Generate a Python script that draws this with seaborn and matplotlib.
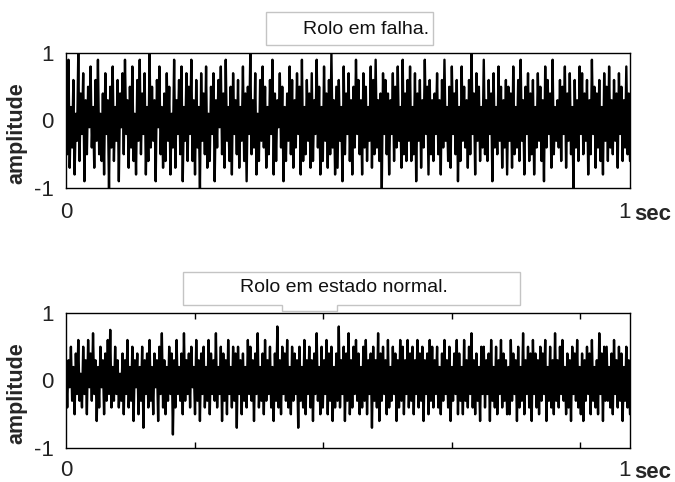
import numpy as np
import pandas as pd
import seaborn as sns
import matplotlib
matplotlib.use("Agg")
import matplotlib.pyplot as plt
from matplotlib.patches import Polygon

# ---- data (hand-estimated from the reference picture) ----
titles = ["Rolo em falha.", "Rolo em estado normal."]
y_label = "amplitude"
y_ticks = [-1, 0, 1]
y_tick_labels = ["-1", "0", "1"]
x_tick_start = "0"
x_tick_end = "1"
x_unit = "sec"

falha = [
    0.3,-0.5,0.9,-0.7,0.2,-0.4,0.6,-0.8,0.1,-0.3,1.0,-0.6,0.4,-0.2,0.7,-0.9,0.3,-0.5,0.5,-0.1,
    0.8,-0.4,0.2,-0.7,0.6,-0.3,0.9,-0.5,0.1,-0.6,0.4,-0.8,0.7,-0.2,0.3,-1.0,0.5,-0.4,0.8,-0.6,
    0.2,-0.3,0.6,-0.9,0.4,-0.1,0.7,-0.5,0.9,-0.2,0.3,-0.7,0.5,-0.4,0.8,-0.6,0.1,-0.8,0.6,-0.3,
    0.9,-0.5,0.4,-0.2,0.7,-0.8,0.2,-0.6,1.0,-0.4,0.5,-0.3,0.3,-0.9,0.6,-0.1,0.8,-0.5,0.2,-0.7,
    0.4,-0.6,0.7,-0.3,0.5,-0.8,0.1,-0.4,0.9,-0.7,0.3,-0.2,0.6,-0.5,0.8,-0.9,0.2,-0.3,0.7,-0.6,
    0.5,-0.2,0.9,-0.6,0.3,-0.8,0.6,-0.4,0.2,-1.0,0.7,-0.3,0.4,-0.5,0.8,-0.7,0.1,-0.6,0.5,-0.2,
    0.7,-0.9,0.3,-0.4,0.6,-0.1,0.8,-0.5,0.4,-0.7,0.9,-0.3,0.2,-0.6,0.5,-0.8,0.7,-0.2,0.3,-0.5,
    0.6,-0.7,0.2,-0.3,0.8,-0.6,0.4,-0.9,0.5,-0.2,1.0,-0.5,0.3,-0.4,0.7,-0.8,0.1,-0.6,0.6,-0.3,
    0.8,-0.4,0.5,-0.7,0.2,-0.5,0.6,-0.2,0.9,-0.8,0.4,-0.6,0.3,-0.1,0.7,-0.4,0.5,-0.9,0.2,-0.6,
    0.4,-0.3,0.8,-0.5,0.6,-0.7,0.3,-0.4,0.7,-0.2,0.5,-0.8,0.9,-0.6,0.2,-0.5,0.6,-0.3,0.4,-0.7,
    0.7,-0.6,0.3,-0.2,0.9,-0.4,0.5,-0.8,0.2,-0.6,0.8,-0.3,0.4,-0.7,0.6,-0.5,1.0,-0.4,0.3,-0.8,
    0.5,-0.7,0.6,-0.3,0.2,-0.9,0.8,-0.5,0.4,-0.2,0.7,-0.6,0.3,-0.8,0.5,-0.4,0.9,-0.2,0.6,-0.5,
    0.3,-0.8,0.7,-0.4,0.5,-0.6,0.2,-0.3,0.8,-0.7,0.6,-0.5,0.9,-0.4,0.3,-0.6,0.4,-1.0,0.7,-0.2,
    0.6,-0.5,0.4,-0.8,0.3,-0.2,0.7,-0.6,0.5,-0.4,0.8,-0.3,0.2,-0.7,0.9,-0.5,0.4,-0.6,0.6,-0.3,
    0.8,-0.6,0.2,-0.5,0.7,-0.9,0.4,-0.3,0.6,-0.7,0.3,-0.4,0.9,-0.2,0.5,-0.8,0.6,-0.5,0.3,-0.6,
    0.4,-0.2,0.7,-0.5,0.3,-0.8,0.6,-0.4,0.9,-0.3,0.2,-0.6,0.5,-0.7,0.8,-0.2,0.4,-0.5,0.6,-0.9,
    0.2,-0.6,0.8,-0.3,0.5,-0.4,0.3,-0.7,0.6,-0.5,1.0,-0.2,0.4,-0.8,0.7,-0.3,0.5,-0.6,0.2,-0.4,
    0.9,-0.5,0.3,-0.6,0.6,-0.2,0.4,-0.9,0.7,-0.4,0.2,-0.5,0.8,-0.3,0.5,-0.7,0.3,-0.4,0.6,-0.8,
    0.5,-0.3,0.4,-0.7,0.8,-0.5,0.2,-0.4,0.6,-0.6,0.9,-0.3,0.3,-0.8,0.5,-0.2,0.7,-0.6,0.4,-0.5,
    0.6,-0.8,0.2,-0.4,0.7,-0.3,0.5,-0.6,0.3,-0.9,0.8,-0.4,0.6,-0.2,0.4,-0.7,0.9,-0.5,0.2,-0.3,
    0.3,-0.4,0.6,-0.6,0.5,-0.2,0.8,-0.7,0.4,-0.3,0.7,-0.5,0.2,-1.0,0.6,-0.4,0.3,-0.6,0.8,-0.2,
    0.7,-0.5,0.4,-0.3,0.6,-0.8,0.3,-0.5,0.9,-0.2,0.5,-0.7,0.4,-0.4,0.6,-0.6,0.2,-0.8,0.7,-0.3,
    0.5,-0.6,0.8,-0.4,0.3,-0.5,0.6,-0.3,0.4,-0.7,0.7,-0.2,0.5,-0.6,0.3,-0.4,0.8,-0.5,0.4,-0.6,
]

normal = [
    0.2,-0.4,0.3,-0.1,0.5,-0.3,0.2,-0.5,0.4,-0.2,0.6,-0.3,0.1,-0.4,0.5,-0.2,0.3,-0.5,0.6,-0.1,
    0.4,-0.3,0.7,-0.2,0.3,-0.6,0.2,-0.4,0.5,-0.1,0.3,-0.5,0.4,-0.3,0.6,-0.2,0.75,-0.4,0.2,-0.3,
    0.5,-0.2,0.3,-0.4,0.1,-0.3,0.4,-0.5,0.3,-0.2,0.6,-0.4,0.2,-0.3,0.5,-0.6,0.3,-0.1,0.4,-0.5,
    0.2,-0.3,0.5,-0.7,0.3,-0.2,0.4,-0.4,0.6,-0.3,0.2,-0.5,0.4,-0.1,0.3,-0.6,0.5,-0.2,0.7,-0.4,
    0.3,-0.5,0.2,-0.3,0.5,-0.2,0.4,-0.8,0.3,-0.4,0.6,-0.2,0.2,-0.3,0.4,-0.5,0.7,-0.3,0.3,-0.2,
    0.4,-0.4,0.5,-0.1,0.2,-0.5,0.6,-0.3,0.3,-0.6,0.4,-0.2,0.5,-0.4,0.2,-0.3,0.6,-0.5,0.4,-0.2,
    0.3,-0.3,0.7,-0.4,0.2,-0.2,0.5,-0.6,0.4,-0.3,0.3,-0.5,0.6,-0.2,0.2,-0.4,0.5,-0.3,0.4,-0.7,
    0.5,-0.2,0.3,-0.5,0.4,-0.3,0.2,-0.4,0.6,-0.2,0.5,-0.3,0.3,-0.6,0.4,-0.2,0.7,-0.4,0.2,-0.3,
    0.4,-0.5,0.6,-0.3,0.3,-0.2,0.5,-0.4,0.2,-0.6,0.4,-0.3,0.8,-0.4,0.3,-0.5,0.5,-0.2,0.4,-0.3,
    0.6,-0.4,0.2,-0.5,0.5,-0.3,0.4,-0.2,0.3,-0.7,0.5,-0.3,0.2,-0.4,0.6,-0.5,0.3,-0.2,0.5,-0.4,
    0.3,-0.6,0.4,-0.2,0.7,-0.3,0.2,-0.5,0.5,-0.4,0.3,-0.2,0.6,-0.5,0.4,-0.3,0.5,-0.6,0.2,-0.4,
    0.4,-0.3,0.8,-0.4,0.3,-0.2,0.5,-0.6,0.4,-0.3,0.7,-0.5,0.3,-0.4,0.5,-0.2,0.6,-0.3,0.4,-0.5,
    0.2,-0.4,0.5,-0.3,0.6,-0.5,0.3,-0.2,0.4,-0.7,0.5,-0.3,0.3,-0.4,0.7,-0.6,0.4,-0.3,0.5,-0.2,
    0.3,-0.5,0.6,-0.4,0.2,-0.3,0.5,-0.2,0.4,-0.6,0.3,-0.4,0.6,-0.3,0.5,-0.5,0.3,-0.2,0.6,-0.4,
    0.4,-0.3,0.5,-0.5,0.3,-0.2,0.6,-0.4,0.4,-0.3,0.5,-0.6,0.3,-0.2,0.4,-0.5,0.6,-0.3,0.5,-0.4,
    0.3,-0.2,0.5,-0.4,0.2,-0.5,0.4,-0.3,0.6,-0.2,0.3,-0.4,0.5,-0.6,0.2,-0.3,0.4,-0.2,0.6,-0.5,
    0.4,-0.3,0.2,-0.5,0.6,-0.3,0.3,-0.4,0.5,-0.2,0.7,-0.4,0.3,-0.5,0.4,-0.3,0.2,-0.6,0.5,-0.2,
    0.5,-0.4,0.3,-0.2,0.4,-0.6,0.6,-0.3,0.2,-0.4,0.5,-0.5,0.3,-0.2,0.6,-0.4,0.4,-0.3,0.3,-0.5,
    0.2,-0.5,0.6,-0.3,0.4,-0.2,0.3,-0.6,0.5,-0.4,0.2,-0.3,0.7,-0.5,0.3,-0.2,0.5,-0.4,0.4,-0.6,
    0.6,-0.2,0.4,-0.4,0.3,-0.5,0.5,-0.3,0.4,-0.2,0.6,-0.6,0.2,-0.3,0.5,-0.4,0.3,-0.5,0.7,-0.3,
    0.3,-0.4,0.5,-0.2,0.6,-0.3,0.2,-0.5,0.4,-0.4,0.3,-0.6,0.5,-0.2,0.4,-0.3,0.6,-0.4,0.2,-0.5,
    0.4,-0.6,0.3,-0.3,0.5,-0.2,0.4,-0.5,0.6,-0.3,0.2,-0.4,0.3,-0.5,0.7,-0.2,0.4,-0.6,0.5,-0.3,
    0.5,-0.3,0.2,-0.4,0.4,-0.5,0.6,-0.2,0.3,-0.4,0.5,-0.3,0.4,-0.6,0.2,-0.3,0.5,-0.4,0.3,-0.5,
]

# ---- figure ----
sns.set_style("white")
plt.rcParams["font.family"] = ["Liberation Sans", "DejaVu Sans"]

W, H = 675, 482
fig = plt.figure(figsize=(W / 100, H / 100), dpi=100)

def fx(px):
    return px / W

def fy(py):
    return 1 - py / H

ax_left, ax_right = 66, 630
panels = [
    dict(values=falha, top=53, bottom=188, title=titles[0], ticks=False,
         box=(266, 12, 433, 45), text_x=366, text_y=29, notch=None,
         xlab_y=213),
    dict(values=normal, top=313, bottom=448, title=titles[1], ticks=True,
         box=(183, 272, 520, 305), text_x=344, text_y=288, notch=(282, 337, 311),
         xlab_y=471),
]

for p in panels:
    ax = fig.add_axes([fx(ax_left), fy(p["bottom"]), fx(ax_right - ax_left),
                       (p["bottom"] - p["top"]) / H])
    vals = p["values"]
    t = np.linspace(0, 1, len(vals))
    df = pd.DataFrame({"t": t, "amp": vals})
    sns.lineplot(data=df, x="t", y="amp", ax=ax, color="black", linewidth=1.7,
                 estimator=None, sort=False)
    ax.set_xlim(0, 1)
    ax.set_ylim(-1, 1)
    ax.set_yticks(y_ticks)
    ax.set_yticklabels(y_tick_labels, fontsize=16, color="#222222")
    ax.tick_params(axis="y", length=0, pad=9)
    if p["ticks"]:
        ax.set_xticks([0.228, 0.456, 0.684, 0.912])
        ax.tick_params(axis="x", direction="in", length=4, width=1, top=True,
                       bottom=True, labelbottom=False, color="black")
    else:
        ax.set_xticks([])
    ax.set_xlabel("")
    ax.set_ylabel("")
    for s in ax.spines.values():
        s.set_color("black")
        s.set_linewidth(1.0)

    # y label
    fig.text(fx(17), fy((p["top"] + p["bottom"]) / 2 + 13), y_label, rotation=90,
             fontsize=15.5, fontweight="bold", ha="center", va="center")
    # x tick texts
    fig.text(fx(66), fy(p["xlab_y"]), x_tick_start, fontsize=16, ha="center",
             va="center", color="#222222")
    fig.text(fx(624), fy(p["xlab_y"]), x_tick_end, fontsize=16, ha="center",
             va="center", color="#222222")
    fig.text(fx(634), fy(p["xlab_y"] + 1), x_unit, fontsize=16, fontweight="bold",
             ha="left", va="center")

    # title box
    x0, y0, x1, y1 = p["box"]
    if p["notch"] is None:
        pts = [(x0, y0), (x1, y0), (x1, y1), (x0, y1)]
    else:
        n0, n1, ny = p["notch"]
        pts = [(x0, y0), (x1, y0), (x1, y1), (n1, y1), (n1, ny), (n0, ny),
               (n0, y1), (x0, y1)]
    poly = Polygon([(fx(a), fy(b)) for a, b in pts], closed=True,
                   transform=fig.transFigure, facecolor="white",
                   edgecolor="#c4c4c4", linewidth=1.0, zorder=5)
    fig.add_artist(poly)
    fig.text(fx(p["text_x"]), fy(p["text_y"]), p["title"], fontsize=14,
             ha="center", va="center", zorder=6, color="#111111")

fig.savefig("out.png", dpi=100)
